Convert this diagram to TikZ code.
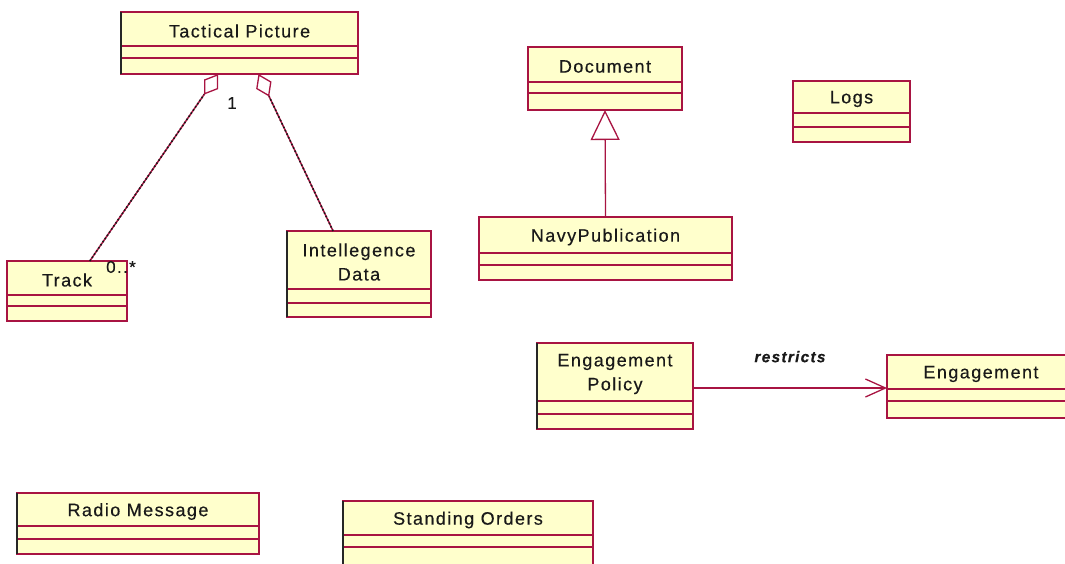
\documentclass[tikz,border=0pt]{standalone}
\usepackage{fontspec}
\usetikzlibrary{arrows.meta,calc}
\newfontfamily\umlfont{Liberation Sans}[LetterSpace=8, FakeBold=0.4]
\definecolor{umlfill}{RGB}{255,255,204}
\definecolor{umlred}{RGB}{168,20,66}

\tikzset{
  classbox/.style={draw=umlred, fill=umlfill, line width=1.3pt, inner sep=0pt, outer sep=0pt},
  classline/.style={draw=umlred, line width=1.3pt},
  classname/.style={font=\umlfont\fontsize{18}{24}\selectfont, text=black!90, align=center, inner sep=0pt},
  leftedge/.style={draw=black!85, line width=2.4pt},
  multiplicity/.style={font=\umlfont\fontsize{17}{20}\selectfont, text=black!90, inner sep=0pt},
  aggregation/.style={draw=umlred, line width=1.5pt,
    -{Diamond[open, length=25pt, width=17pt, line width=1.3pt]},
    postaction={draw=black!90, arrows=-, line width=1.6pt, dash pattern=on 1.6pt off 2.2pt, shorten >=25pt}},
  generalization/.style={draw=umlred, line width=1.3pt,
    -{Triangle[open, length=30pt, width=29pt, line width=1.3pt]}},
  navigable/.style={draw=umlred, line width=1.3pt,
    -{Straight Barb[length=20pt, width=18pt, line width=1.3pt]}},
  assoclabel/.style={font=\umlfont\fontsize{15.5}{18}\selectfont\bfseries\itshape, text=black!90, inner sep=0pt}
}

% class box: name, x1, y1, x2, y2, first separator, second separator, title
\newcommand\umlclass[8]{%
  \node[classbox, anchor=north west, minimum width={#4-#2}, minimum height={#5-#3}] (#1) at (#2,#3) {};
  \draw[classline] (#2,#6) -- (#4,#6) (#2,#7) -- (#4,#7);
  \node[classname] (#1-title) at ($(#2,#3)!0.5!(#4,#6) + (0,2)$) {#8};
}

\begin{document}
\begin{tikzpicture}[x=1pt, y=-1pt]
\useasboundingbox (0,0) rectangle (1065,563);

\umlclass{tactical}{121}{12}{358}{74}{46}{58}{Tactical Picture}
\umlclass{track}{7}{261}{127}{321}{295}{306}{Track}
\umlclass{intel}{287}{231}{431}{317}{289}{303}{Intellegence\\Data}
\umlclass{document}{528}{47}{682}{110}{82}{93}{Document}
\umlclass{navy}{479}{217}{732}{280}{253}{265}{NavyPublication}
\umlclass{logs}{793}{81}{910}{142}{113}{127}{Logs}
\umlclass{policy}{537}{343}{693}{429}{401}{414}{Engagement\\Policy}
\umlclass{engagement}{887}{355}{1075}{418}{389}{401}{Engagement}
\umlclass{radio}{17}{493}{259}{554}{526}{539}{Radio Message}
\umlclass{orders}{343}{501}{593}{570}{535}{547}{Standing Orders}

% heavy left borders
\draw[leftedge] (tactical.north west) -- (tactical.south west);
\draw[leftedge] (intel.north west) -- (intel.south west);
\draw[leftedge] (policy.north west) -- (policy.south west);
\draw[leftedge] (radio.north west) -- (radio.south west);
\draw[leftedge] (orders.north west) -- ([yshift=-1pt]orders.south west);

% aggregations into Tactical Picture
\coordinate (trackend) at ($(track.north west)!0.69!(track.north east)$);
\coordinate (tpleft) at ($(tactical.south west)!0.41!(tactical.south east)$);
\draw[aggregation] (trackend) -- (tpleft);
\coordinate (intelend) at ($(intel.north west)!0.32!(intel.north east)$);
\coordinate (tpright) at ($(tactical.south west)!0.58!(tactical.south east)$);
\draw[aggregation] (intelend) -- (tpright);
\node[multiplicity] (one) at (232,103) {1};
\node[multiplicity] (many) at (121,267) {0..*};

% NavyPublication specialises Document
\draw[generalization] (navy.north) -- (document.south);

% restricts association
\draw[navigable] (policy.east |- 0,388) -- (engagement.west |- 0,388)
  node[assoclabel, pos=0.5, above=25pt] (restricts) {restricts};

\end{tikzpicture}
\end{document}
